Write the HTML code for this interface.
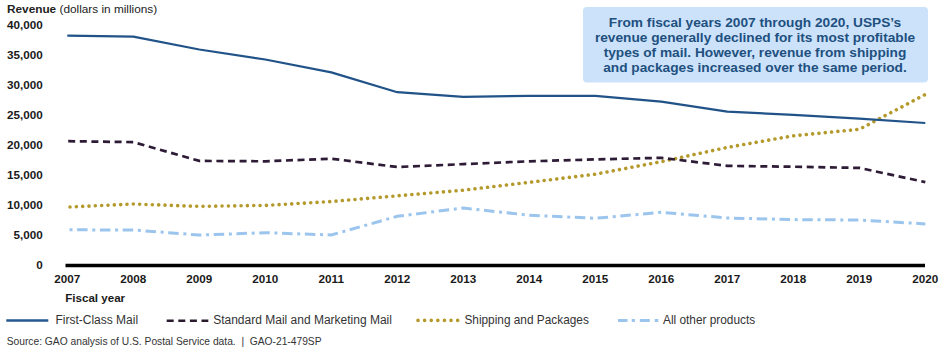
<!DOCTYPE html>
<html><head><meta charset="utf-8"><style>
html,body{margin:0;padding:0;background:#fff;}
body{width:945px;height:351px;overflow:hidden;position:relative;font-family:"Liberation Sans",sans-serif;}
svg{position:absolute;left:0;top:0;}
.ax{font-family:"Liberation Sans",sans-serif;font-weight:bold;font-size:11.7px;fill:#1a1a1a;}
.lg{font-family:"Liberation Sans",sans-serif;font-size:11.85px;fill:#333;}
.src{font-family:"Liberation Sans",sans-serif;font-size:10.25px;fill:#333;}
.co{font-family:"Liberation Sans",sans-serif;font-weight:bold;font-size:13.7px;fill:#21507f;}
</style></head><body>
<svg width="945" height="351" viewBox="0 0 945 351">
<text x="7" y="13" class="lg" style="fill:#222;font-size:11.8px"><tspan font-weight="bold">Revenue</tspan> (dollars in millions)</text>
<text x="42.8" y="29.2" text-anchor="end" class="ax">40,000</text>
<text x="42.8" y="59.2" text-anchor="end" class="ax">35,000</text>
<text x="42.8" y="89.1" text-anchor="end" class="ax">30,000</text>
<text x="42.8" y="119.1" text-anchor="end" class="ax">25,000</text>
<text x="42.8" y="149.0" text-anchor="end" class="ax">20,000</text>
<text x="42.8" y="179.0" text-anchor="end" class="ax">15,000</text>
<text x="42.8" y="209.0" text-anchor="end" class="ax">10,000</text>
<text x="42.8" y="238.9" text-anchor="end" class="ax">5,000</text>
<text x="42.8" y="268.9" text-anchor="end" class="ax">0</text>
<text x="67.3" y="282.8" text-anchor="middle" class="ax">2007</text>
<text x="133.3" y="282.8" text-anchor="middle" class="ax">2008</text>
<text x="199.3" y="282.8" text-anchor="middle" class="ax">2009</text>
<text x="265.3" y="282.8" text-anchor="middle" class="ax">2010</text>
<text x="331.3" y="282.8" text-anchor="middle" class="ax">2011</text>
<text x="397.3" y="282.8" text-anchor="middle" class="ax">2012</text>
<text x="463.3" y="282.8" text-anchor="middle" class="ax">2013</text>
<text x="529.3" y="282.8" text-anchor="middle" class="ax">2014</text>
<text x="595.3" y="282.8" text-anchor="middle" class="ax">2015</text>
<text x="661.3" y="282.8" text-anchor="middle" class="ax">2016</text>
<text x="727.3" y="282.8" text-anchor="middle" class="ax">2017</text>
<text x="793.3" y="282.8" text-anchor="middle" class="ax">2018</text>
<text x="859.3" y="282.8" text-anchor="middle" class="ax">2019</text>
<text x="925.3" y="282.8" text-anchor="middle" class="ax">2020</text>
<rect x="583" y="7" width="345" height="75.5" rx="4" ry="4" fill="#cce2fa"/>
<text x="755" y="26.9" text-anchor="middle" class="co">From fiscal years 2007 through 2020, USPS’s</text>
<text x="755" y="42.3" text-anchor="middle" class="co">revenue generally declined for its most profitable</text>
<text x="755" y="57.3" text-anchor="middle" class="co">types of mail. However, revenue from shipping</text>
<text x="755" y="72.3" text-anchor="middle" class="co">and packages increased over the same period.</text>
<line x1="65.5" y1="265.5" x2="925" y2="265.5" stroke="#000" stroke-width="3.3"/>
<polyline points="67.3,229.8 133.3,230.0 199.3,235.1 265.3,232.7 331.3,235.0 397.3,216.3 463.3,208.0 529.3,215.2 595.3,218.3 661.3,212.3 727.3,218.0 793.3,219.6 859.3,220.0 925.3,223.9" fill="none" stroke="#9cc5ee" stroke-width="3" stroke-dasharray="3 4.6 10.5 4.7" stroke-dashoffset="-2.2"/>
<polyline points="67.3,207.1 133.3,204.0 199.3,206.4 265.3,205.4 331.3,201.5 397.3,195.8 463.3,190.2 529.3,182.3 595.3,174.2 661.3,161.7 727.3,147.4 793.3,135.8 859.3,129.3 925.3,94.5" fill="none" stroke="#b49a2c" stroke-width="3.6" stroke-linecap="round" stroke-dasharray="0.01 6.33" stroke-dashoffset="-2.7"/>
<polyline points="67.3,141.2 133.3,142.1 199.3,160.9 265.3,161.3 331.3,158.7 397.3,167.0 463.3,164.1 529.3,161.3 595.3,159.4 661.3,157.8 727.3,165.9 793.3,166.7 859.3,167.9 925.3,182.1" fill="none" stroke="#2e1b36" stroke-width="2.7" stroke-dasharray="7 4.6" stroke-dashoffset="-0.9"/>
<polyline points="67.3,35.7 133.3,36.6 199.3,49.5 265.3,59.5 331.3,72.4 397.3,92.2 463.3,96.8 529.3,95.9 595.3,95.9 661.3,101.6 727.3,111.7 793.3,114.8 859.3,118.7 925.3,123.0" fill="none" stroke="#215389" stroke-width="2.2" stroke-linejoin="round"/>
<text x="65.2" y="302" class="ax" style="font-size:11.6px">Fiscal year</text>
<line x1="6.3" y1="320.5" x2="48.3" y2="320.5" stroke="#25598f" stroke-width="2.4"/>
<text x="55.4" y="324.1" class="lg" style="font-size:12px">First-Class Mail</text>
<line x1="166.7" y1="320.8" x2="208.3" y2="320.8" stroke="#2a1a2e" stroke-width="2.5" stroke-dasharray="7 4.6"/>
<text x="213.2" y="324.1" class="lg" style="font-size:12px">Standard Mail and Marketing Mail</text>
<line x1="418" y1="320.4" x2="458" y2="320.4" stroke="#b49a2c" stroke-width="3.6" stroke-linecap="round" stroke-dasharray="0.01 6.6"/>
<text x="464.4" y="324.1" class="lg">Shipping and Packages</text>
<line x1="618" y1="320.5" x2="658.5" y2="320.5" stroke="#9cc5ee" stroke-width="3" stroke-dasharray="9.5 4.2 3.2 4.9 10 4.9 3.6"/>
<text x="663" y="324.1" class="lg">All other products</text>
<text x="6.7" y="344.6" class="src" style="white-space:pre" xml:space="preserve">Source: GAO analysis of U.S. Postal Service data.  |  GAO-21-479SP</text>
</svg>
</body></html>
